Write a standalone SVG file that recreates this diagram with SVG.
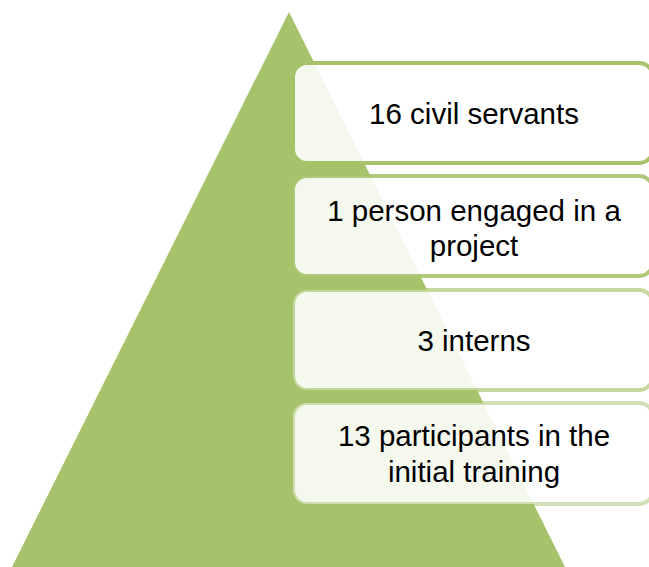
<svg xmlns="http://www.w3.org/2000/svg" width="649" height="567" viewBox="0 0 649 567">
<style>
.box{fill:#ffffff;fill-opacity:0.88;stroke:#a6c36c;stroke-width:4}
.t{font-family:"Liberation Sans",Arial,sans-serif;font-size:29.5px;fill:#000000;text-anchor:middle}
</style>
<rect width="649" height="567" fill="#ffffff"/>
<g id="pyramid">
<polygon points="289,12 12,567 565,567" fill="#a6c36c"/>
</g>
<g id="connectors"></g>
<g id="node1">
<rect class="box" x="293" y="63" width="360" height="100" rx="14" stroke-opacity="1"/>
<text class="t" x="474" y="124">16 civil servants</text>
</g>
<g id="node2">
<rect class="box" x="293" y="176" width="360" height="100" rx="14" stroke-opacity="0.9"/>
<text class="t" x="474" y="221">1 person engaged in a</text>
<text class="t" x="474" y="256">project</text>
</g>
<g id="node3">
<rect class="box" x="293" y="290" width="360" height="100" rx="14" stroke-opacity="0.65"/>
<text class="t" x="474" y="351">3 interns</text>
</g>
<g id="node4">
<rect class="box" x="293" y="403" width="360" height="101" rx="14" stroke-opacity="0.5"/>
<text class="t" x="474" y="446">13 participants in the</text>
<text class="t" x="474" y="482">initial training</text>
</g>
</svg>
